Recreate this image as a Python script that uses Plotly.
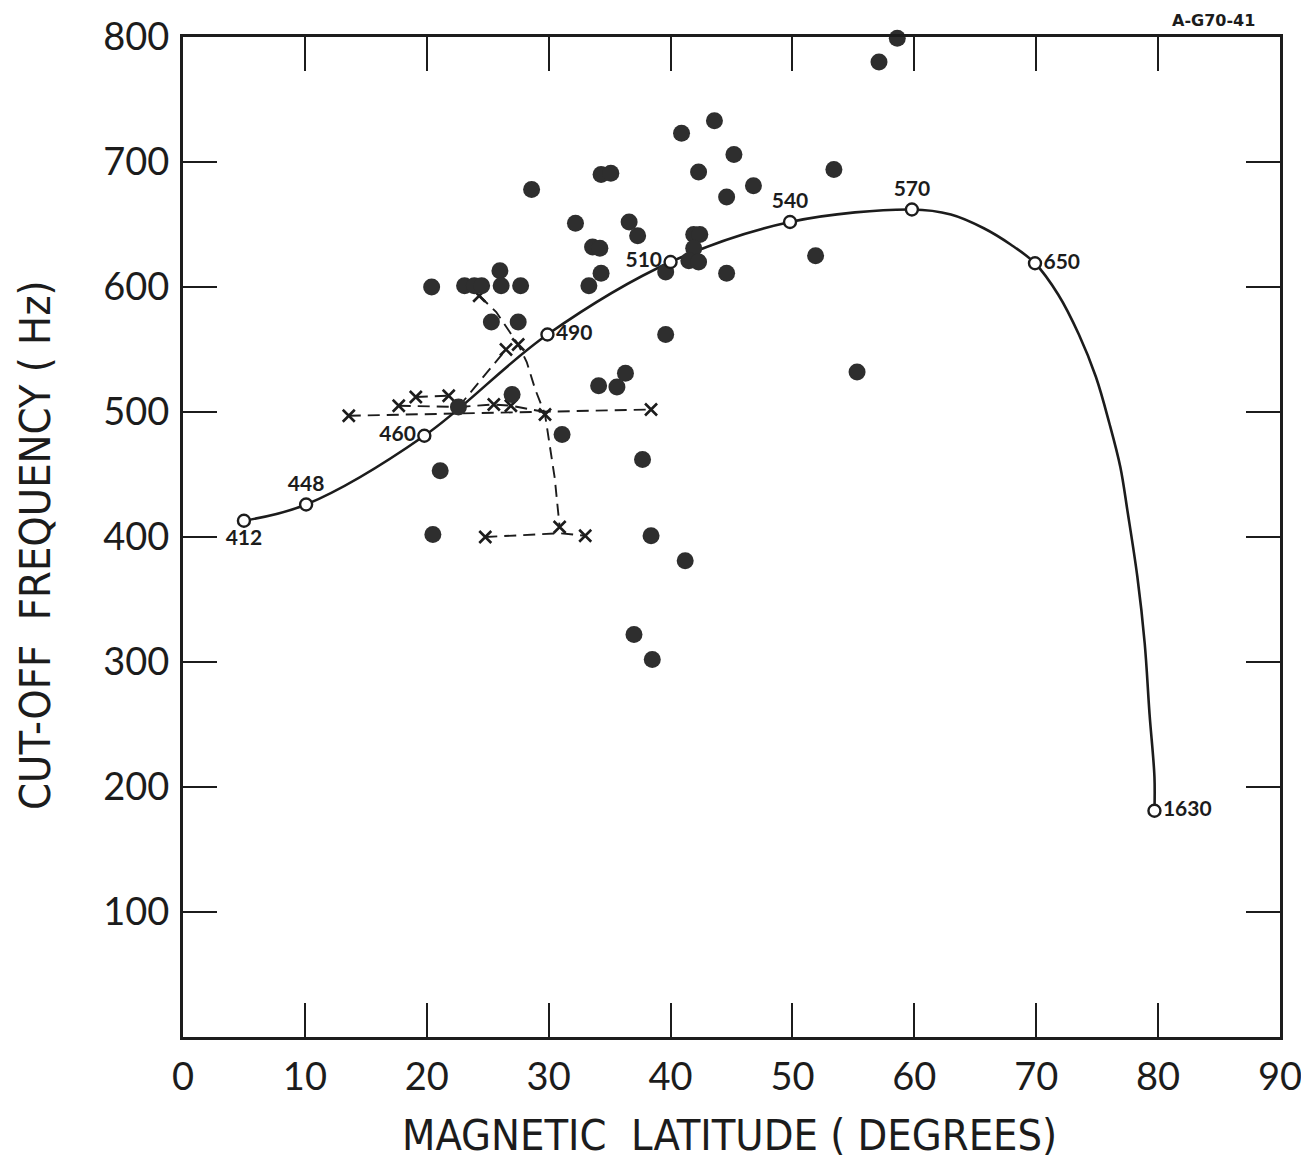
import plotly.graph_objects as go

# ---------------- data ----------------
# Observed cut-off frequencies (filled dots)
dots_lat = [20.4, 23.1, 23.9, 24.5, 26.0, 26.1, 27.7, 25.3, 27.5, 28.6,
            32.2, 33.6, 34.2, 34.3, 33.3, 34.3, 35.1, 36.6, 37.3, 39.6,
            39.6, 40.9, 43.6, 45.2, 42.3, 44.6, 46.8, 53.4, 41.9, 42.4,
            41.9, 41.5, 42.3, 44.6, 51.9, 55.3, 34.1, 35.6, 36.3, 27.0,
            22.6, 31.1, 21.1, 20.5, 37.7, 38.4, 41.2, 37.0, 38.5, 57.1,
            58.6]
dots_freq = [600, 601, 601, 601, 613, 601, 601, 572, 572, 678,
             651, 632, 631, 611, 601, 690, 691, 652, 641, 612,
             562, 723, 733, 706, 692, 672, 681, 694, 642, 642,
             631, 621, 620, 611, 625, 532, 521, 520, 531, 514,
             504, 482, 453, 402, 462, 401, 381, 322, 302, 780,
             799]

# Computed curve (open circles with labels)
calc_lat = [5.0, 10.1, 19.8, 29.9, 40.0, 49.8, 59.8, 69.9, 79.7]
calc_freq = [413, 426, 481, 562, 620, 652, 662, 619, 181]
calc_labels = ["412", "448", "460", "490", "510", "540", "570", "650", "1630"]
calc_label_pos = ["bottom center", "top center", "middle left", "middle right",
                  "middle left", "top center", "top center", "middle right",
                  "middle right"]

# Curve trace (circles plus points read along the curve between them)
curve_lat = [5.0, 10.1, 19.8, 29.9, 40.0, 49.8, 59.8, 63.0, 65.7, 67.9, 69.9,
             71.8, 73.5, 74.9, 76.0, 76.9, 77.5, 78.3, 78.9, 79.3, 79.7, 79.7]
curve_freq = [413, 426, 481, 562, 620, 652, 662, 658, 647, 634, 619,
              594, 562, 528, 491, 456, 420, 368, 315, 258, 208, 181]

# Dashed "x" tracks
track1_lat = [13.6, 29.2, 38.4]
track1_freq = [497, 500, 502]
track2_lat = [17.7, 22.6]
track2_freq = [505, 504]
track3_lat = [19.1, 21.8]
track3_freq = [512, 513]
track4_lat = [22.6, 25.5, 26.9, 29.7]
track4_freq = [504, 506, 505, 500]
track5_lat = [22.6, 26.5]
track5_freq = [504, 550]
track6_lat = [24.3, 25.7, 27.5, 28.2, 28.9, 29.7, 30.5, 30.9]
track6_freq = [593, 580, 554, 540, 518, 498, 447, 408]
track7_lat = [24.8, 30.9, 33.0]
track7_freq = [400, 403, 401]

xmark_lat = [13.6, 17.7, 19.1, 21.8, 25.5, 26.9, 26.5, 24.3, 27.5, 29.7, 30.9, 24.8, 33.0, 38.4]
xmark_freq = [497, 505, 512, 513, 506, 505, 550, 593, 554, 498, 408, 400, 401, 502]

x_ticks = [0, 10, 20, 30, 40, 50, 60, 70, 80, 90]
x_ticklabels = ["0", "10", "20", "30", "40", "50", "60", "70", "80", "90"]
y_ticks = [100, 200, 300, 400, 500, 600, 700, 800]
y_ticklabels = ["100", "200", "300", "400", "500", "600", "700", "800"]

# ---------------- figure ----------------
INK = "#1c1c1c"
fig = go.Figure()

tracks = [(track1_lat, track1_freq), (track2_lat, track2_freq), (track3_lat, track3_freq),
          (track4_lat, track4_freq), (track5_lat, track5_freq), (track6_lat, track6_freq),
          (track7_lat, track7_freq)]
for tx, ty in tracks:
    fig.add_trace(go.Scatter(x=tx, y=ty, mode="lines", showlegend=False,
                             line=dict(color=INK, width=1.9, dash="12px,7px"),
                             hoverinfo="skip", cliponaxis=False))

fig.add_trace(go.Scatter(x=xmark_lat, y=xmark_freq, mode="markers", showlegend=False,
                         marker=dict(symbol="x-thin", size=12, color=INK,
                                     line=dict(color=INK, width=2.6)),
                         cliponaxis=False))

fig.add_trace(go.Scatter(x=curve_lat, y=curve_freq, mode="lines", showlegend=False,
                         line=dict(color=INK, width=2.6, shape="spline", smoothing=1.0),
                         cliponaxis=False))

fig.add_trace(go.Scatter(x=dots_lat, y=dots_freq, mode="markers", showlegend=False,
                         marker=dict(symbol="circle", size=17, color="#2e2e2e",
                                     line=dict(width=0)),
                         cliponaxis=False))

fig.add_trace(go.Scatter(x=calc_lat, y=calc_freq, mode="markers+text", showlegend=False,
                         marker=dict(symbol="circle", size=12, color="white",
                                     line=dict(color=INK, width=2.4)),
                         text=calc_labels, textposition=calc_label_pos,
                         textfont=dict(family="Lato, DejaVu Sans, sans-serif", size=21,
                                       color=INK, weight=700),
                         cliponaxis=False))

axis_common = dict(showgrid=False, zeroline=False, showline=True, linecolor=INK,
                   linewidth=3, mirror="allticks", ticks="inside", tickcolor=INK,
                   tickwidth=2, ticklen=34, automargin=False, ticklabeloverflow="allow",
                   tickfont=dict(family="Lato, DejaVu Sans, sans-serif", size=38, color=INK))

fig.update_xaxes(range=[0, 90], tickvals=x_ticks, ticktext=x_ticklabels,
                 ticklabelstandoff=4, **axis_common)
fig.update_yaxes(range=[0, 800], tickvals=y_ticks, ticktext=y_ticklabels,
                 ticklabelstandoff=3, **axis_common)

title_font = dict(family="Liberation Sans Narrow, DejaVu Sans Condensed, Arial Narrow, sans-serif",
                  size=43, color=INK)
fig.add_annotation(text="MAGNETIC  LATITUDE ( DEGREES)", xref="paper", yref="paper",
                   x=0.4986, y=-0.098, showarrow=False, font=title_font,
                   xanchor="center", yanchor="middle")
fig.add_annotation(text="CUT-OFF  FREQUENCY ( Hz)", xref="paper", yref="paper",
                   x=-0.135, y=0.492, showarrow=False, font=title_font, textangle=-90,
                   xanchor="center", yanchor="middle")
fig.add_annotation(text="A-G70-41", xref="paper", yref="paper", x=0.939, y=1.016,
                   showarrow=False, xanchor="center", yanchor="middle",
                   font=dict(family="DejaVu Sans, sans-serif", size=16, color=INK, weight=700))

# The page body adds an 8 px offset, so the figure is sized to fit the window.
fig.update_layout(width=1301, height=1155, plot_bgcolor="white", paper_bgcolor="white",
                  margin=dict(l=175, r=29, t=29, b=126, autoexpand=False), showlegend=False)

fig.write_html("out.html")
